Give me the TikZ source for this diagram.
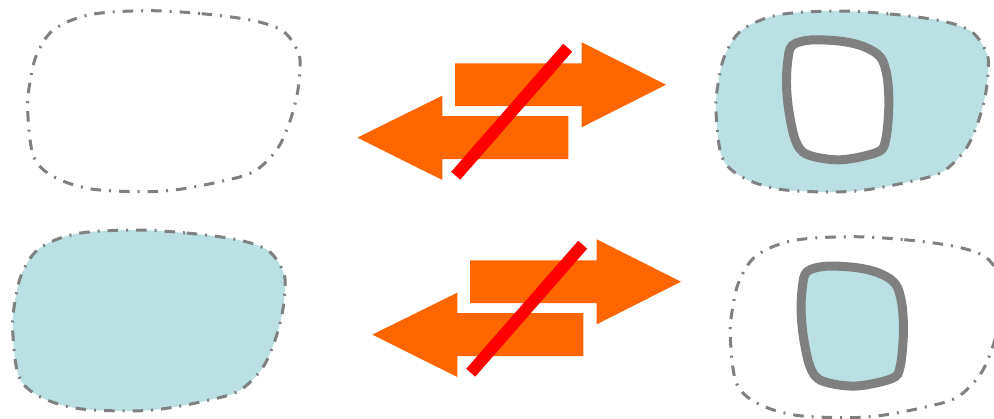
\documentclass[tikz,border=0pt]{standalone}
\definecolor{lensblue}{RGB}{186,224,227}
\definecolor{rimgray}{RGB}{128,128,128}
\definecolor{arroworange}{RGB}{255,102,0}
\definecolor{barred}{RGB}{255,0,0}
\tikzset{
  dashdot/.style={draw=rimgray, line width=3pt, dash pattern=on 10.5pt off 8pt on 2pt off 8pt},
  rim/.style={draw=rimgray, line width=9pt},
  lensfill/.style={fill=lensblue},
  whitefill/.style={fill=white},
  bigarrow/.style={fill=arroworange, draw=none},
  strike/.style={draw=barred, line width=12pt, line cap=butt},
  outerlens/.pic={
    \path[pic actions] plot[smooth cycle, tension=0.55] coordinates {
      (120,0) (175,3) (227,10) (257,21) (272,43) (273,62) (270,86) (262,114)
      (250,139) (227,161) (193,171) (150,179) (113,181) (63,178) (27,166)
      (7,146) (1,101) (3,73) (10,44) (27,19) (63,4)};
  },
  innerlens/.pic={
    \path[pic actions] plot[smooth cycle, tension=0.55] coordinates {
      (5.7,5.5) (24,0) (54,1.2) (77,6.5) (94,17.2) (100.7,37.2) (102.3,67.2)
      (99,100.5) (90.7,112.2) (54,119.8) (20.7,114.5) (9,100.5) (2.3,70.5)
      (0,43.8) (1.3,20.5)};
  },
  swaparrows/.pic={
    \path[bigarrow] (455,63.3) -- (581.7,63.3) -- (581.7,42.3) -- (666,84.7)
      -- (581.7,127.3) -- (581.7,106) -- (455,106) -- cycle;
    \path[bigarrow] (568.3,116) -- (442.3,116) -- (442.3,95.7) -- (357.3,137.6)
      -- (442.3,180) -- (442.3,159) -- (568.3,159) -- cycle;
    \coordinate (-lo) at (455.7,175.7);
    \coordinate (-hi) at (567.7,47.7);
    \draw[strike] (-lo) -- (-hi);
  }
}
\begin{document}
\begin{tikzpicture}[x=1pt, y=-1pt]
  \useasboundingbox (0,0) rectangle (994,418);
  \clip (0,0) rectangle (994,418);
  \fill[white] (0,0) rectangle (994,418);
  % top row
  \pic (tl) at (26.7,10.7) [dashdot] {outerlens};
  \pic (tr) at (715,11) [dashdot, lensfill] {outerlens};
  \pic (tri) at (786.5,40) [rim, whitefill] {innerlens};
  \pic (ta) at (0,0) {swaparrows};
  % bottom row
  \pic (bl) at (11.7,230) [dashdot, lensfill] {outerlens};
  \pic (br) at (729.3,236.7) [dashdot] {outerlens};
  \pic (bri) at (801.1,266.3) [rim, lensfill] {innerlens};
  \pic (ba) at (15,197) {swaparrows};
\end{tikzpicture}
\end{document}
